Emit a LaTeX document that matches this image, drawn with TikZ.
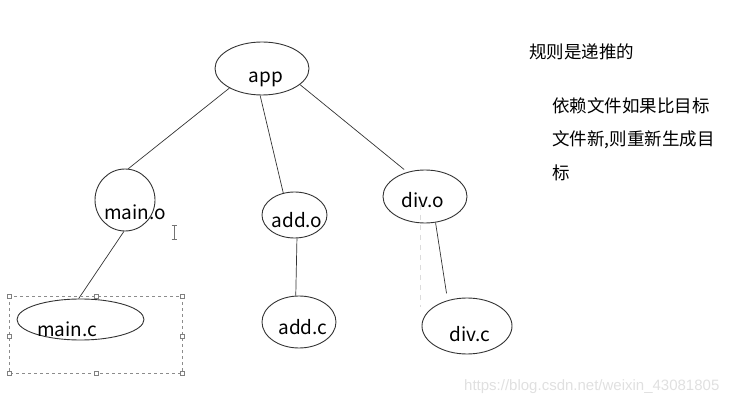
\documentclass[tikz,border=0pt]{standalone}
\usepackage{fontspec}
\setmainfont{Noto Sans CJK SC}
\newfontfamily\wmfont{Liberation Sans}
\usetikzlibrary{shapes.geometric}
\tikzset{
  oval/.style={draw=black!80, line width=0.9pt, ellipse, inner sep=0pt},
  lbl/.style={font=\fontsize{19}{21}\selectfont, inner sep=0pt},
  cn/.style={font=\fontsize{17.5}{20}\selectfont, inner sep=0pt, anchor=west},
  edge/.style={draw=black!80, line width=0.7pt},
  handle/.style={draw=black!50, fill=white, line width=0.5pt, minimum size=4pt, inner sep=0pt, rectangle},
}
\begin{document}
\begin{tikzpicture}[x=1pt,y=-1pt]
\useasboundingbox (0,0) rectangle (745,406);
% faint artifact line
\draw[black!14, line width=0.5pt, dash pattern=on 5pt off 5pt] (420,205) -- (420,307);
% ellipses
\node[oval, minimum width=94pt, minimum height=53pt] (app) at (262,68.5) {};
\node[oval, minimum width=60pt, minimum height=62pt] (mo) at (125,200) {};
\node[oval, minimum width=65pt, minimum height=46pt] (ao) at (294.5,215) {};
\node[oval, minimum width=84pt, minimum height=53pt] (do) at (425,196.5) {};
\node[oval, minimum width=127pt, minimum height=41pt] (mc) at (80.5,319.5) {};
\node[oval, minimum width=74pt, minimum height=52pt] (ac) at (299,322) {};
\node[oval, minimum width=90pt, minimum height=56pt] (dc) at (467,326) {};
% labels
\node[lbl] (tapp) at (266,79) {app};
\node[lbl] (tmo) at (135,212) {main.o};
\node[lbl] (tao) at (297,220) {add.o};
\node[lbl] (tdo) at (423,200) {div.o};
\node[lbl] (tmc) at (67,329) {main.c};
\node[lbl] (tac) at (303,327) {add.c};
\node[lbl] (tdc) at (470,334) {div.c};
% connectors
\draw[edge] (app.-149) -- (mo.84);
\draw[edge] (app.-94) -- (ao.117);
\draw[edge, shorten >=4pt] (app.-23) -- (do.126);
\draw[edge] (mo.-92) -- (mc.95);
\draw[edge] (ao.-84) -- (ac.97);
\draw[edge, shorten >=7pt] (do.-68) -- (dc.127);
% selection box
\draw[black!45, dash pattern=on 3pt off 3pt, line width=0.6pt] (9,296) rectangle (182,373);
\foreach \p in {(9,296),(96,296),(182,296),(9,336),(182,336),(9,373),(96,373),(182,373)}
  \node[handle] at \p {};
% cursor
\draw[black!55, line width=0.7pt] (174,225) -- (174,239) (171.5,225) -- (176.5,225) (171.5,239) -- (176.5,239);
% Chinese notes
\node[cn] (r1) at (529,52) {规则是递推的};
\node[cn] (r2) at (552,106) {依赖文件如果比目标};
\node[cn] (r3) at (552,140) {文件新,则重新生成目};
\node[cn] (r4) at (552,173) {标};
% watermark
\node[font=\wmfont\fontsize{15}{17}\selectfont, text=black!12, anchor=west, inner sep=0pt] (wm) at (464,387) {https://blog.csdn.net/weixin\_43081805};
\end{tikzpicture}
\end{document}
